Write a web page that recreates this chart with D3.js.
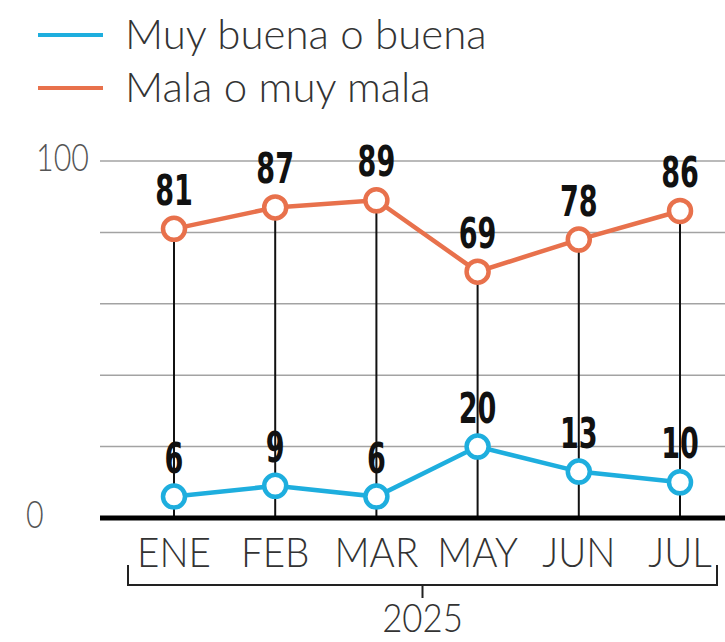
<!DOCTYPE html>
<html>
<head>
<meta charset="utf-8">
<script src="https://cdn.jsdelivr.net/npm/d3@7"></script>
<style>
  html, body { margin: 0; padding: 0; background: #fff; }
  svg { display: block; }
  .narrow { font-family: "DejaVu Sans Condensed", "Liberation Sans", sans-serif; }
  .light { font-family: Lato, "Open Sans", sans-serif; font-weight: 300; }
</style>
</head>
<body>
<svg id="chart" width="725" height="642"></svg>
<script>
// datos
const months = ["ENE", "FEB", "MAR", "MAY", "JUN", "JUL"];
const buena = [6, 9, 6, 20, 13, 10];
const mala = [81, 87, 89, 69, 78, 86];
const seriesNames = ["Muy buena o buena", "Mala o muy mala"];
const yTicks = [0, 20, 40, 60, 80, 100];
const yTickLabels = [0, 100];
const yearLabel = "2025";

const blue = "#1eaede";
const orange = "#e8714c";

const svg = d3.select("#chart");

const x = d3.scalePoint().domain(months).range([174, 680]);
const y = d3.scaleLinear().domain([0, 100]).range([518, 161]);

// squeeze text horizontally around its anchor
const squeeze = (px, py, s) => `translate(${px},${py}) scale(${s},1)`;

// legend
const legend = svg.append("g").attr("class", "light");
[blue, orange].forEach((c, i) => {
  const g = legend.append("g").attr("transform", `translate(0,${35 + i * 53})`);
  g.append("line").attr("x1", 38).attr("x2", 103).attr("stroke", c).attr("stroke-width", 4);
  g.append("text").attr("x", 125).attr("y", 14)
    .attr("font-size", 42).attr("fill", "#333")
    .text(seriesNames[i]);
});

// gridlines
svg.append("g").selectAll("line")
  .data(yTicks.filter(d => d > 0))
  .join("line")
  .attr("x1", 100).attr("x2", 725)
  .attr("y1", d => y(d)).attr("y2", d => y(d))
  .attr("stroke", "#a3a3a3").attr("stroke-width", 1.5);

// y labels
svg.append("g").attr("class", "light").selectAll("text")
  .data(yTickLabels)
  .join("text")
  .attr("transform", d => squeeze(d === 0 ? 26 : 36, y(d) + 10, 0.8))
  .attr("font-size", 38).attr("fill", "#555")
  .text(d => d);

// vertical drop lines
svg.append("g").selectAll("line")
  .data(months)
  .join("line")
  .attr("x1", d => x(d)).attr("x2", d => x(d))
  .attr("y1", (d, i) => y(mala[i])).attr("y2", y(0))
  .attr("stroke", "#111").attr("stroke-width", 2);

// baseline
svg.append("line")
  .attr("x1", 100).attr("x2", 725)
  .attr("y1", y(0)).attr("y2", y(0))
  .attr("stroke", "#000").attr("stroke-width", 5);

// series
const line = d3.line().x((d, i) => x(months[i])).y(d => y(d));
[[buena, blue], [mala, orange]].forEach(([vals, c]) => {
  svg.append("path").datum(vals)
    .attr("d", line)
    .attr("fill", "none").attr("stroke", c).attr("stroke-width", 4.5);
  svg.append("g").selectAll("circle")
    .data(vals)
    .join("circle")
    .attr("cx", (d, i) => x(months[i])).attr("cy", d => y(d))
    .attr("r", 11)
    .attr("fill", "#fff").attr("stroke", c).attr("stroke-width", 4.5);
  svg.append("g").attr("class", "narrow").selectAll("text")
    .data(vals)
    .join("text")
    .attr("transform", (d, i) => squeeze(x(months[i]), y(d) - 24, 0.7))
    .attr("text-anchor", "middle")
    .attr("font-size", 43).attr("font-weight", "bold").attr("fill", "#111")
    .text(d => d);
});

// x labels
svg.append("g").attr("class", "light").selectAll("text")
  .data(months)
  .join("text")
  .attr("transform", d => squeeze(x(d), 567, 0.92))
  .attr("text-anchor", "middle")
  .attr("font-size", 42).attr("fill", "#333")
  .text(d => d);

// bracket
const bx0 = 128, bx1 = 717, by = 585;
const bracket = d3.path();
bracket.moveTo(bx0, 565); bracket.lineTo(bx0, by); bracket.lineTo(bx1, by); bracket.lineTo(bx1, 565);
const bmid = (bx0 + bx1) / 2;
bracket.moveTo(bmid, by); bracket.lineTo(bmid, 598);
svg.append("path").attr("d", bracket.toString())
  .attr("fill", "none").attr("stroke", "#222").attr("stroke-width", 2);

svg.append("text").attr("class", "light")
  .attr("transform", squeeze(bmid, 632, 0.87))
  .attr("text-anchor", "middle")
  .attr("font-size", 40).attr("fill", "#333")
  .text(yearLabel);
</script>
</body>
</html>
